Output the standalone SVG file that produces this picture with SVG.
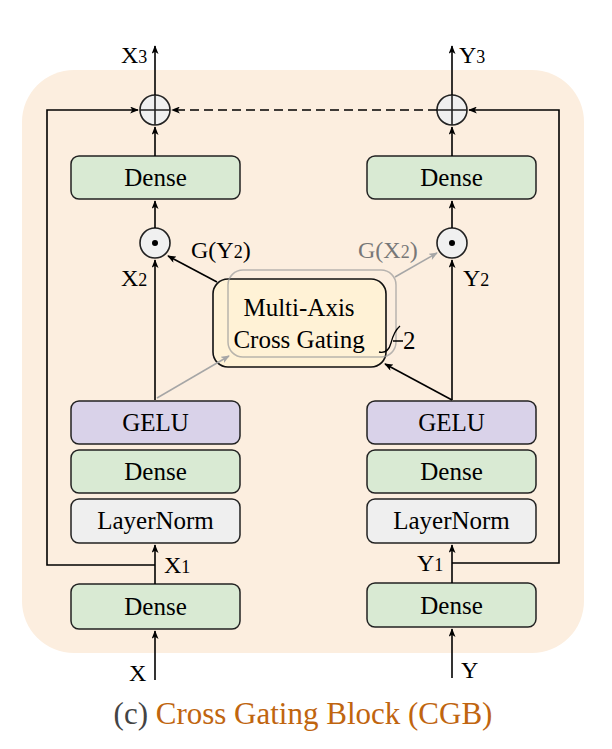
<svg xmlns="http://www.w3.org/2000/svg" width="612" height="749" viewBox="0 0 612 749">
<defs>
<marker id="ah" viewBox="0 0 10 8" refX="9" refY="4" markerWidth="9" markerHeight="7" markerUnits="userSpaceOnUse" orient="auto">
<path d="M0,0 L10,4 L0,8 L2.5,4 z" fill="#000"/>
</marker>
<marker id="ahg" viewBox="0 0 10 8" refX="9" refY="4" markerWidth="9" markerHeight="7" markerUnits="userSpaceOnUse" orient="auto">
<path d="M0,0 L10,4 L0,8 L2.5,4 z" fill="#A6A6A6"/>
</marker>
</defs>
<style>
.box{stroke:#222;stroke-width:1.5}
.dense{fill:#D9EAD3}
.gelu{fill:#D9D2E9}
.ln{fill:#EFEFEF}
.op{fill:#F0F0F0;stroke:#222;stroke-width:1.6}
</style>
<rect x="22" y="70" width="562" height="583" rx="52" fill="#FCEEDF"/>

<g id="plus-left"><circle class="op" cx="155" cy="110" r="15"/><path fill="none" stroke="#222" stroke-width="1.6" d="M140,110 H170 M155,95 V125"/></g>
<g id="plus-right"><circle class="op" cx="452" cy="110" r="15"/><path fill="none" stroke="#222" stroke-width="1.6" d="M437,110 H467 M452,95 V125"/></g>
<g id="odot-left"><circle class="op" cx="155" cy="243" r="15"/><circle cx="155" cy="243" r="3" fill="#000"/></g>
<g id="odot-right"><circle class="op" cx="452" cy="243" r="15"/><circle cx="452" cy="243" r="3" fill="#000"/></g>

<g font-family="Liberation Serif, serif" font-size="25" text-anchor="middle">
<g id="dense-top-left"><rect class="box dense" x="71" y="156" width="169" height="43" rx="8"/><text x="155.5" y="186">Dense</text></g>
<g id="dense-top-right"><rect class="box dense" x="367" y="156" width="169" height="43" rx="8"/><text x="451.5" y="186">Dense</text></g>
<g id="gelu-left"><rect class="box gelu" x="71" y="401" width="169" height="43" rx="8"/><text x="155.5" y="431">GELU</text></g>
<g id="dense-mid-left"><rect class="box dense" x="71" y="450" width="169" height="43" rx="8"/><text x="155.5" y="480">Dense</text></g>
<g id="ln-left"><rect class="box ln" x="71" y="499" width="169" height="44" rx="8"/><text x="155.5" y="529">LayerNorm</text></g>
<g id="dense-bot-left"><rect class="box dense" x="71" y="584" width="169" height="45" rx="8"/><text x="155.5" y="615">Dense</text></g>
<g id="gelu-right"><rect class="box gelu" x="367" y="401" width="169" height="43" rx="8"/><text x="451.5" y="431">GELU</text></g>
<g id="dense-mid-right"><rect class="box dense" x="367" y="450" width="169" height="43" rx="8"/><text x="451.5" y="480">Dense</text></g>
<g id="ln-right"><rect class="box ln" x="367" y="499" width="169" height="44" rx="8"/><text x="451.5" y="529">LayerNorm</text></g>
<g id="dense-bot-right"><rect class="box dense" x="367" y="583" width="169" height="44" rx="8"/><text x="451.5" y="614">Dense</text></g>
</g>

<g id="maxg" font-family="Liberation Serif, serif" font-size="25">
<rect x="213" y="279" width="173" height="88" rx="15" fill="#FFF2D6" stroke="#111" stroke-width="1.6"/>
<rect x="228" y="270" width="168" height="87" rx="15" fill="none" stroke="#9A9A9A" stroke-width="1.5" stroke-opacity="0.7"/>
<text text-anchor="middle" x="299" y="316">Multi-Axis</text>
<text text-anchor="middle" x="299" y="348">Cross Gating</text>
<path d="M379,352 Q388,354 391,343 Q394,331 400,326 M393,341 H403" fill="none" stroke="#000" stroke-width="1.3"/>
<text x="403" y="349">2</text>
</g>

<g id="connectors" stroke="#000" stroke-width="1.6" fill="none">
<path d="M155,680 V631" marker-end="url(#ah)"/>
<path d="M155,584 V545" marker-end="url(#ah)"/>
<path d="M155,565 H47 V110 H138" marker-end="url(#ah)"/>
<path d="M155,400 V260" marker-end="url(#ah)"/>
<path d="M155,228 V201" marker-end="url(#ah)"/>
<path d="M155,156 V127" marker-end="url(#ah)"/>
<path d="M155,95 V46" marker-end="url(#ah)"/>
<path d="M452,678 V629" marker-end="url(#ah)"/>
<path d="M452,583 V545" marker-end="url(#ah)"/>
<path d="M452,563 H559 V110 H469" marker-end="url(#ah)"/>
<path d="M452,400 V260" marker-end="url(#ah)"/>
<path d="M452,228 V201" marker-end="url(#ah)"/>
<path d="M452,156 V127" marker-end="url(#ah)"/>
<path d="M452,95 V46" marker-end="url(#ah)"/>
<path d="M437,110 H172" stroke-dasharray="9,5" marker-end="url(#ah)"/>
<path d="M217,282 L168,256" marker-end="url(#ah)"/>
<path d="M452,400 L385,364" marker-end="url(#ah)"/>
<path d="M157,398 L229,356" stroke="#A6A6A6" stroke-width="1.5" marker-end="url(#ahg)"/>
<path d="M395,277 L437,253" stroke="#A6A6A6" stroke-width="1.5" marker-end="url(#ahg)"/>
</g>

<g id="labels" font-family="Liberation Serif, serif" font-size="24">
<text x="121" y="63">X<tspan font-size="18">3</tspan></text>
<text x="459" y="63">Y<tspan font-size="18">3</tspan></text>
<text x="191" y="258">G(Y<tspan font-size="18">2</tspan>)</text>
<text x="358" y="258" fill="#777">G(X<tspan font-size="18">2</tspan>)</text>
<text x="121" y="286">X<tspan font-size="18">2</tspan></text>
<text x="463" y="286">Y<tspan font-size="18">2</tspan></text>
<text x="164" y="573">X<tspan font-size="18">1</tspan></text>
<text x="417" y="571">Y<tspan font-size="18">1</tspan></text>
<text x="129" y="681">X</text>
<text x="461" y="678">Y</text>
</g>
<text font-family="Liberation Serif, serif" font-size="31" x="303" y="724" text-anchor="middle"><tspan fill="#444">(c) </tspan><tspan fill="#C0650F">Cross Gating Block (CGB)</tspan></text>
</svg>
